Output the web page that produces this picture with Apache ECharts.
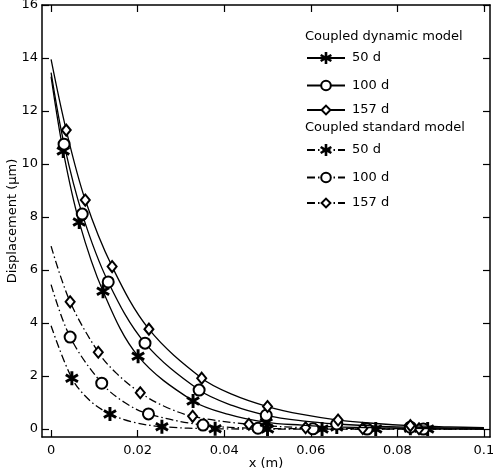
<!DOCTYPE html>
<html>
<head>
<meta charset="utf-8">
<script src="https://cdn.jsdelivr.net/npm/echarts@6/dist/echarts.min.js"></script>
<style>html,body{margin:0;padding:0;background:#fff}#c{width:493px;height:472px}</style>
</head>
<body>
<div id="c"></div>
<script>
// ---- data ----
const X_TICKS = [0, 0.02, 0.04, 0.06, 0.08, 0.1];
const Y_TICKS = [0, 2, 4, 6, 8, 10, 12, 14, 16];

const GROUP_TITLES = ['Coupled dynamic model', 'Coupled standard model'];
const LABELS = ['50 d', '100 d', '157 d'];

// Coupled dynamic model
const dyn50X = [0, 0.0028, 0.0065, 0.012, 0.0201, 0.0328, 0.041, 0.0497, 0.058, 0.066, 0.075, 0.083, 0.092, 0.1];
const dyn50Y = [13.3, 10.49, 7.81, 5.2, 2.75, 1.06, 0.55, 0.25, 0.15, 0.08, 0.05, 0.03, 0.01, 0.0];
const dyn50M = [0, 1, 1, 1, 1, 1, 0, 1, 0, 1, 0, 1, 0, 0];

const dyn100X = [0, 0.003, 0.0072, 0.0132, 0.0217, 0.0342, 0.042, 0.0497, 0.058, 0.066, 0.075, 0.083, 0.092, 0.1];
const dyn100Y = [13.45, 10.75, 8.11, 5.55, 3.24, 1.47, 0.88, 0.52, 0.31, 0.19, 0.11, 0.07, 0.04, 0.025];
const dyn100M = [0, 1, 1, 1, 1, 1, 0, 1, 0, 1, 0, 1, 0, 0];

const dyn157X = [0, 0.0035, 0.0079, 0.0141, 0.0226, 0.0348, 0.042, 0.05, 0.058, 0.0663, 0.075, 0.083, 0.092, 0.1];
const dyn157Y = [13.95, 11.28, 8.64, 6.13, 3.77, 1.92, 1.3, 0.85, 0.55, 0.34, 0.21, 0.13, 0.08, 0.05];
const dyn157M = [0, 1, 1, 1, 1, 1, 0, 1, 0, 1, 0, 1, 0, 0];

// Coupled standard model
const std50X = [0, 0.0048, 0.009, 0.0136, 0.019, 0.0256, 0.0379, 0.05, 0.0626, 0.075, 0.087, 0.1];
const std50Y = [3.9, 1.92, 1.07, 0.57, 0.26, 0.09, 0.01, 0, 0, 0, 0, 0];
const std50M = [0, 1, 0, 1, 0, 1, 1, 1, 1, 1, 1, 0];

const std100X = [0, 0.0044, 0.0117, 0.017, 0.0225, 0.0351, 0.0478, 0.0605, 0.073, 0.086, 0.1];
const std100Y = [5.45, 3.47, 1.73, 1.0, 0.57, 0.15, 0.03, 0.01, 0, 0, 0];
const std100M = [0, 1, 1, 0, 1, 1, 1, 1, 1, 1, 0];

const std157X = [0, 0.0044, 0.0109, 0.015, 0.0206, 0.026, 0.0327, 0.0457, 0.0588, 0.072, 0.085, 0.1];
const std157Y = [6.9, 4.8, 2.9, 2.12, 1.37, 0.87, 0.48, 0.18, 0.05, 0.02, 0.01, 0];
const std157M = [0, 1, 1, 0, 1, 0, 1, 1, 1, 1, 1, 0];

// ---- styling helpers ----
const FONT = 'DejaVu Sans';
function asteriskPath() {
  const L = 10, W = 2.1;
  let d = '';
  [90, 30, 150].forEach(a => {
    const r = a * Math.PI / 180, c = Math.cos(r), s = Math.sin(r);
    const px = -s, py = c;
    const pts = [
      [L * c + W * px, L * s + W * py],
      [-L * c + W * px, -L * s + W * py],
      [-L * c - W * px, -L * s - W * py],
      [L * c - W * px, L * s - W * py]
    ].map(p => [(p[0] + 12).toFixed(2), (p[1] + 12).toFixed(2)]);
    d += 'M' + pts[0].join(' ') + 'L' + pts[1].join(' ') + 'L' + pts[2].join(' ') + 'L' + pts[3].join(' ') + 'Z';
  });
  return 'path://' + d;
}
const STAR = asteriskPath();
const DASHDOT = [8, 3, 1.5, 3];

function mk(id, xs, ys, ms, kind, dashed) {
  const data = xs.map((x, i) => ms[i] ? { value: [x, ys[i]] } : { value: [x, ys[i]], symbol: 'none' });
  let symbol, size, itemStyle;
  if (kind === 'star') { symbol = STAR; size = 14; itemStyle = { color: '#000', borderWidth: 0 }; }
  else if (kind === 'circle') { symbol = 'emptyCircle'; size = 11; itemStyle = { color: '#000', borderColor: '#000', borderWidth: 1.4 }; }
  else { symbol = 'emptyDiamond'; size = [9, 11]; itemStyle = { color: '#000', borderColor: '#000', borderWidth: 1.1 }; }
  return {
    id: id, name: id, type: 'line', data: data, smooth: 0.35,
    symbol: symbol, symbolSize: size, symbolKeepAspect: true, showAllSymbol: true,
    itemStyle: itemStyle,
    lineStyle: { color: '#000', width: 1.3, type: dashed ? DASHDOT : 'solid' },
    emphasis: { disabled: true }, z: dashed ? 2 : 3
  };
}

const nameMap = { dyn50: LABELS[0], dyn100: LABELS[1], dyn157: LABELS[2], std50: LABELS[0], std100: LABELS[1], std157: LABELS[2] };

const fmt = v => String(Math.round(v * 100) / 100);
const tickStyle = { show: true, inside: true, length: 7, lineStyle: { color: '#000', width: 1.2 } };
const lineStyleAxis = { show: true, onZero: false, lineStyle: { color: '#000', width: 1.5 } };
const txt = { color: '#000', fontSize: 13, fontFamily: FONT };

// one legend per entry so each icon can get its own size
function leg(id, centerY, h) {
  return { data: [id], orient: 'vertical', left: 306, top: centerY - h / 2, padding: 0,
    itemWidth: 38, itemHeight: h, selectedMode: false,
    formatter: n => nameMap[n],
    textStyle: Object.assign({ padding: [0, 0, 0, 2] }, txt) };
}

const option = {
  animation: false,
  backgroundColor: '#fff',
  grid: { left: 42, right: 3, top: 5, bottom: 35, containLabel: false, outerBoundsMode: 'none' },
  xAxis: [
    { type: 'value', min: -0.0021, max: 0.1014, position: 'bottom',
      axisLine: lineStyleAxis, axisTick: Object.assign({ customValues: X_TICKS }, tickStyle),
      axisLabel: Object.assign({ customValues: X_TICKS, margin: 7, formatter: fmt }, txt),
      splitLine: { show: false },
      name: 'x (m)', nameLocation: 'middle', nameGap: 20, nameMoveOverlap: false, nameTextStyle: txt },
    { type: 'value', min: -0.0021, max: 0.1014, position: 'top',
      axisLine: lineStyleAxis, axisTick: Object.assign({ customValues: X_TICKS }, tickStyle),
      axisLabel: { show: false }, splitLine: { show: false } }
  ],
  yAxis: [
    { type: 'value', min: -0.3, max: 16, position: 'left',
      axisLine: lineStyleAxis, axisTick: Object.assign({ customValues: Y_TICKS }, tickStyle),
      axisLabel: Object.assign({ customValues: Y_TICKS, margin: 4, formatter: fmt }, txt),
      splitLine: { show: false },
      name: 'Displacement (µm)', nameLocation: 'middle', nameGap: 23, nameMoveOverlap: false, nameTextStyle: txt },
    { type: 'value', min: -0.3, max: 16, position: 'right',
      axisLine: lineStyleAxis, axisTick: Object.assign({ customValues: Y_TICKS }, tickStyle),
      axisLabel: { show: false }, splitLine: { show: false } }
  ],
  legend: [
    leg('dyn50', 59, 15), leg('dyn100', 85, 12), leg('dyn157', 109, 11),
    leg('std50', 151, 15), leg('std100', 177, 12), leg('std157', 202, 11)
  ],
  graphic: [
    { type: 'text', left: 305, top: 30, style: { text: GROUP_TITLES[0], fill: '#000', font: '13px "DejaVu Sans"' } },
    { type: 'text', left: 305, top: 121, style: { text: GROUP_TITLES[1], fill: '#000', font: '13px "DejaVu Sans"' } }
  ],
  series: [
    mk('dyn50', dyn50X, dyn50Y, dyn50M, 'star', false),
    mk('dyn100', dyn100X, dyn100Y, dyn100M, 'circle', false),
    mk('dyn157', dyn157X, dyn157Y, dyn157M, 'diamond', false),
    mk('std50', std50X, std50Y, std50M, 'star', true),
    mk('std100', std100X, std100Y, std100M, 'circle', true),
    mk('std157', std157X, std157Y, std157M, 'diamond', true)
  ]
};

const chart = echarts.init(document.getElementById('c'), null, { renderer: 'canvas' });
chart.setOption(option);
</script>
</body>
</html>
